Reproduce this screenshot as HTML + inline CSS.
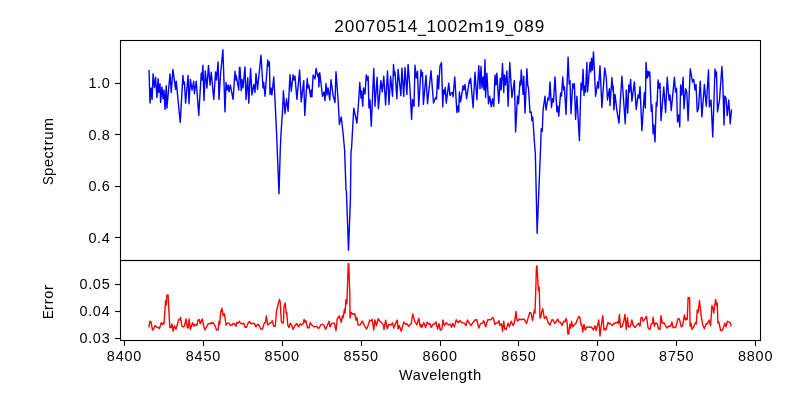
<!DOCTYPE html>
<html><head><meta charset="utf-8"><title>20070514_1002m19_089</title>
<style>html,body{margin:0;padding:0;background:#fff;}body{width:800px;height:400px;overflow:hidden;font-family:"Liberation Sans",sans-serif;}svg{display:block;}</style>
</head><body>
<svg width="800" height="400" viewBox="0 0 800 400">
<rect width="800" height="400" fill="#fff"/>
<polyline fill="none" stroke="#0000ff" stroke-width="1.39" stroke-linejoin="round" stroke-linecap="butt" points="149.0,70.0 150,103.1 151,88 152.1,99.4 153.1,73.75 154.4,87.5 155.6,77.25 156.9,97.5 158.1,78.75 158.75,92.5 160,83.75 160.6,102.5 161.9,86.9 163.1,98.75 164,90 165,109.4 166.25,85.6 166.9,108.1 170,74 171.25,92.5 172.9,69.4 175.6,89.4 176.25,81.25 180.25,122.5 182.9,75.4 183.6,84 184.4,81.9 185.6,103.1 188.1,75.4 189,103.75 190.4,79.4 192,90 193.75,81.25 194.4,93.75 196.25,81.25 198.75,115.4 201.25,73.1 202,80 202.9,65.25 204,100.6 205.25,70.9 206.9,88.1 208.5,65.4 210,85 211.25,72.25 213.75,99.4 215.6,71.9 216.5,80 218.1,61.9 219,99.4 220.5,75 222.9,49.75 225,111.9 226,82.5 227,90 228.1,85 229,92 230.25,85 233.1,99.4 235,71.25 235.6,80 236.25,75.6 238.75,90 239.4,67.5 240,67.5 241.2,90.6 241.9,79.4 243,88 245,66.9 246,99.4 247.75,77.75 248.75,103.1 250.6,68.4 251.9,95 253.75,84.4 255,92.5 256,73.5 257.5,89.4 261,55.25 263,88 263.75,82.5 265,96.25 267.75,60 268.5,66 269.4,61.9 270,94.4 271,88 271.9,95 273.75,76.9 275,100 276.9,140 277.2,150 279,193.75 280.25,150 281,133.75 282.75,107.5 283.4,90.6 285,113.75 286.5,98.75 288.1,111.25 290,74.75 291.25,91.25 293.1,74.75 294,80 295,76.25 296.9,99.4 299.6,70 301.25,101.9 303.75,80.6 304.75,115.4 307.25,78.5 308,88 308.75,85 310.6,96.9 311.2,90 311.9,96.9 313.1,75 315,79 316,68.5 317.75,76.5 318.5,74 318.9,86.9 319.75,72.75 322.5,96.25 324,92 325,100.6 326,83.5 327,95 328,88 329.75,100 331,79.75 333,95 335,102.5 336,71.6 338.1,100 339.4,124.4 341.25,116.9 343.1,133.5 344.6,150 346,190 346.4,191 348.5,250.3 350.4,200 351,152 351.6,147.5 353.75,108.1 356.9,123.1 358.75,100 359.75,82.5 361,98 361.5,91 362.75,106.25 363.5,88 365,94 366.25,75 367.2,80 368.1,76.25 369,108 370,100 371.25,126.25 373.75,68.5 375,106.25 377.1,77.25 378.4,108.75 380.9,80.6 382.25,91.9 383.75,76.25 385.6,105 387.5,71 389,104.4 390.6,76.25 392.5,96.25 393.5,64.4 394.3,75 395,71.9 396.9,98.75 398.1,69.4 400.9,95.6 401.9,68.1 403.75,96.25 405,67.5 406.9,94.4 408.1,64.4 410,88.75 411.6,119.4 412.5,99.4 414,106.25 415,65.25 416.3,78 417.5,71.25 418.75,106.25 421,69.75 421.8,76 422.5,72.5 423.4,104.4 426,75.4 427.5,103.75 431,70.6 433.5,103.1 435.6,97.5 436.5,99 437.6,75.5 438.6,89 440,66 441.5,62.5 442.75,106.9 443.6,90 444.4,94 445.25,87.5 446.25,103.1 448.75,83.1 450,95.6 451.2,93 452.5,92.5 453.1,96.9 454.75,76.9 456.9,112.5 457.8,106 458.75,111.9 459.4,91.9 460.6,101.9 463.1,85.6 464,90 465,84.4 466.6,98.75 469.4,80 470,83 470.6,78.1 473.1,107.75 475,72.25 476.9,99.75 478.75,65.6 480,88.75 481,66.5 482,88 483.1,77 484,90 485,59.6 485.6,97.5 486.9,73.1 488.5,103.75 489.75,96.25 491.25,106.9 492.5,98.75 493.75,106.5 495,75 496,85 496.9,73.1 498.75,103.1 500.25,78.1 501.2,90 502.5,63.5 503.75,92.5 504.4,75 505.5,85 506.9,71 508.1,106.25 509.75,62.5 511.9,97.5 513,90 514.4,80.4 515.6,131.9 517.5,96 518.5,103.75 520,81.25 520.6,85 521.25,70 523.1,94.4 523.75,76.25 525,113.1 526.9,68.75 527.8,86 528.5,88 530,112.5 531.2,111.9 531.9,120.6 532.7,117 533.1,122.5 535,150 535.3,152 537.15,233.25 540.5,150 541.25,128.75 542.25,131.25 543.1,110 545,96.25 546,110 548.1,97.5 549,100 550,81.9 551.5,107.5 552.5,98.75 553.5,102 555,76.9 556.9,111.9 557.8,106 558.75,116.25 560.6,93 561.5,96 562.75,76.9 563.6,90 564.4,86.9 566,114.4 568.1,57.1 569.2,84 570,80.6 571,113.75 572.75,83.75 573.6,88 574.4,83.75 575.6,119.4 576.9,96.25 579.4,140.6 581,83.1 582,90 583.1,69.4 584,95.6 584.6,86.25 585.5,92 586.9,62.5 587.5,91.9 590,62.5 590.8,72 591.5,58.1 592.4,70 593.5,51.9 595.6,96.25 597.75,81.9 598.5,88.1 600,65.6 601.9,107.5 604.75,67.9 606.25,77.5 607.5,100 609.4,88.75 610,105.6 611.9,77.5 612.8,90 613.3,86.25 613.9,110 615,94.4 616.9,110.6 619,123.1 621.9,76.25 625.25,123.75 626.25,90 627.75,113.1 628.75,85 629.6,92 630.6,79.4 631.9,101.25 634.4,81.9 636.25,109.4 638.1,95 639,98 640,86.6 641.9,130.6 644.4,92.5 645.3,108 646,62.5 647.2,78 648.1,71.25 649,76 649.75,71.9 651.25,111.25 652,105 653.1,133.75 653.8,125 655,141.9 656.25,102.5 657,106 658.1,80 659,88 660,83.1 661,120.6 663.75,86.9 665.6,112.5 667.25,77.25 669,100 670,95 671.25,110.6 674.4,77.25 675.5,92 676.5,88.1 677.5,121.9 678.6,115 679.75,126.9 680.6,85 681.8,95 683.1,77.25 684,108.75 685.6,88.75 686.8,92 688.1,120.6 690.25,68.75 692.5,82 693.75,79.4 695,90 696,84.4 697.25,111.9 698.5,108 700.25,81.25 701.9,116.9 704.4,84.4 706.25,106.25 708.5,70 709.4,106.9 711,100 712.75,136.9 715,69 715.8,76 716.5,71.9 717.5,111.9 719.5,100 721.9,66.5 722.8,82 724,125 724.75,96 726,98 727.25,115.6 728.75,100 730.25,123.75 731.5,109.4"/>
<polyline fill="none" stroke="#ff0000" stroke-width="1.39" stroke-linejoin="round" stroke-linecap="butt" points="148.75,327.5 150,321.25 151,321.9 152.5,330 153.75,328.75 155,325.6 156.9,327.5 158.75,327.5 159.4,328.7 161.25,322.75 162.5,324.4 163.4,322.75 164,324 165.6,300.6 166.25,305 166.9,295 168.1,295 169,312.5 169.75,327.5 171,327.5 171.9,324 173.1,331.25 174.4,325.6 176,329.4 176.9,326.25 178.75,319.4 179.75,320 180.6,317.5 181.9,326.25 183.1,326.9 184.4,326.25 186,319 187.25,327.5 188.1,328.1 189.1,319 190.4,329.4 192.5,322.75 194,326.25 195,324.4 196.9,325.6 198.1,320 199.4,319.75 200.25,323.75 202.25,319 203.75,326.25 205,330 206.25,327.5 208.1,323.75 210,323.75 211.25,322.5 211.9,323.75 213.1,322.5 215,325.6 216.5,330 218.1,330 219,321.25 219.75,324.4 220.6,312.5 221.9,308.1 223.1,315.6 224.4,313.75 226,325 227.5,323.1 229,323.1 230.25,325.25 231.9,325 233.1,323.5 234.75,324 236,326.25 236.9,322.25 238.1,323.1 239.4,321.25 240,322.5 241.9,324 243.75,323.1 245,327.25 246.5,327.25 248.1,323.1 249.4,321.5 251.25,324 252.5,323.1 254.75,324 256,326.9 257.5,324.4 258.75,324.75 260.6,329 262.25,329.4 264.4,322.75 265.4,322.75 266.25,316 267.75,325 269.4,323.75 270,322.75 271,322.75 272.25,320.6 273.75,326.25 275.25,326.25 276.5,311.25 278.1,304.4 279.5,299.4 280.25,302.5 281.25,321.25 282.5,323.1 283.4,322.75 284,306.25 285.25,303.1 286.25,313.75 286.75,312.5 287.75,325 289,327.5 290.25,323.1 291.5,325 293.1,329.4 294.4,326.25 296.9,323.5 298.5,326.9 300.25,323.75 301.5,325 303.1,323.75 304.1,319.4 305,322.25 305.9,320.6 307.5,327.5 309,328.1 310.25,322.75 312.25,325.6 314.4,326.9 316.9,326.25 318.5,328.75 321.25,324.4 323.5,324.4 325.6,329.4 327.5,325 329,321.25 330,326.9 331.9,323.1 334.4,323.1 336,330.6 337.25,319 339.4,316 341.25,322.25 342.5,315.6 343.1,317.8 344.4,309.4 345,313.1 346,299.4 346.9,303.75 347.3,292 348.25,263.6 348.75,263.6 349.8,295 350,318.1 351.25,312.5 353.1,314.4 354.75,313.75 356,320 356.9,317.5 358.1,325 360.25,324.75 362.25,321 364.4,325.6 366.5,329 368.1,325.6 369.75,320 371,321 372.25,319.4 373.75,330 375,320 376.5,325.6 378.1,318.75 380,321.25 381.9,323.1 383.1,324.4 384,329.4 385.6,320.25 387.25,328.75 388.75,324.4 391.25,325 392.5,322.75 393.75,328.1 395.6,323.1 397.25,320 398.1,329 399.4,325.6 401.25,331.25 403.75,321.9 405.6,324.4 406.9,323.75 408.75,326.25 411.25,323.5 412.75,314 414,318.75 415,321.9 416.9,324.75 418.75,318.1 420.25,326.9 421,324.4 421.9,327.5 423.75,322.5 425.6,327.5 427.25,322.25 429.4,324.4 430,323.75 431.25,327.5 432.75,324.4 434.4,324 436,321.9 437.5,329 439,323.75 440.25,330 441.9,329.4 442.9,320 444.4,325.6 446.25,322.75 448.5,325 450.25,324 451.5,327.25 452.75,323.5 454.4,326.9 456.25,319.75 458.1,322.75 459.75,320.6 461.9,322.75 464.4,323.1 466,325.6 467.5,320 469.4,323.1 471,325.6 472.75,322.75 475.25,319.75 476.9,320 478.75,328.1 480.6,323.5 482.5,323.1 483.75,320.6 485.6,326.9 487.75,319.75 490.6,319.75 492.9,317.5 493.75,319.4 494.75,324.4 496.25,323.1 498.1,322.75 499,320.6 500,325.6 501.5,323.75 502.5,331.25 503.75,321.25 504.75,329 506.25,329.4 508.1,323.1 509.4,326.9 511.25,321.25 513.1,325.6 514.4,322.75 516,311.5 516.9,320 517.75,321 519.4,319 521.25,319.75 522.5,319 524.4,319.4 526.5,323.5 528.1,318.1 529.75,312.5 531,313.1 532.5,320.6 533.75,313.1 534.4,310 535,313.1 535.6,296 536.4,268 536.9,265.8 537.5,275 538.4,290.5 539.2,287.5 540,318.1 540.9,317 541.5,313.1 542.75,308.75 544.4,318.5 546.25,316.5 548.1,322.75 550,325 551.9,319.75 553.1,320 554.75,323.5 556.5,321 557.75,319 559,321.9 560.6,322.5 561.9,325.6 563.75,321.25 565,321.9 566,318.5 566.9,320.6 567.9,334 568.75,333.75 569.75,324.4 570.6,328.1 571.5,321.5 572.75,326.9 574.4,324.4 576.25,322.75 577.5,319 578.75,316.5 579.75,316.9 581.25,325.6 581.9,325 582.75,331.9 584,324.4 585.25,330 586.9,326.9 589.4,327.25 591.25,326.9 593.5,330 595,325.6 596.25,330.6 598.75,320 600,336 601,327.5 602.75,315.6 604,330 605,328.75 606,329.75 607.9,322.5 609.4,324 610,323.1 612.25,325.6 613.75,323.5 616.25,322.75 617.75,321.9 618.5,323.75 619.4,314.4 620.6,327.5 622.25,326.25 623.75,321.25 625,314.4 626.25,329.4 627.5,317.75 628.5,326.9 630.25,326.9 631.9,320 633.1,325 634.75,327.5 636.5,325.6 638.5,323.1 640,326.25 641,317.5 642.25,317.75 643.1,321.25 644.75,319.4 646.5,316.25 648.1,328.1 650,329.4 651.25,323.75 652.5,323.5 653.1,317.25 654.4,326.25 655.6,323.1 657.25,323.5 658.5,329 660,329.4 661,315.6 662.25,323.1 664,322.75 666.9,328.1 668.75,326.25 670.6,326.25 671.9,322.25 673.1,327.5 675.6,327.5 678.1,318.75 679.4,319 681.25,326.9 682.5,326.25 684.4,315 685.4,320 686.5,318.5 687.25,319.4 688.1,297.75 689.6,297.75 690.1,326.25 691,323.1 692,329.4 693.4,327.5 695.6,322.5 696.25,324 697.25,310 698.1,312.5 699.5,300.6 701.1,315.3 702.6,324.4 704.4,328.75 706.1,323.75 707.5,324 709,320 710.6,325.6 711.9,305.6 712.75,306.9 713.75,313.1 715.6,299.4 716.5,305 717.25,303.1 717.9,323.1 718.75,321.9 720.6,330.25 722.5,330 725,323.1 726,326.9 727.5,321.25 729.4,322.25 730.4,323.1 731.25,326.25"/>
<g fill="none" stroke="#000" stroke-width="1.1" stroke-linecap="square">
<rect x="120.5" y="40.5" width="640" height="220"/>
<rect x="120.5" y="260.5" width="640" height="80"/>
</g>
<g stroke="#000" stroke-width="1.1">
<line x1="124.5" y1="340.5" x2="124.5" y2="345.9"/>
<line x1="203.5" y1="340.5" x2="203.5" y2="345.9"/>
<line x1="282.5" y1="340.5" x2="282.5" y2="345.9"/>
<line x1="361.5" y1="340.5" x2="361.5" y2="345.9"/>
<line x1="440.5" y1="340.5" x2="440.5" y2="345.9"/>
<line x1="518.5" y1="340.5" x2="518.5" y2="345.9"/>
<line x1="597.5" y1="340.5" x2="597.5" y2="345.9"/>
<line x1="676.5" y1="340.5" x2="676.5" y2="345.9"/>
<line x1="755.5" y1="340.5" x2="755.5" y2="345.9"/>
<line x1="115.1" y1="83.5" x2="120.5" y2="83.5"/>
<line x1="115.1" y1="134.5" x2="120.5" y2="134.5"/>
<line x1="115.1" y1="186.5" x2="120.5" y2="186.5"/>
<line x1="115.1" y1="237.5" x2="120.5" y2="237.5"/>
<line x1="115.1" y1="284.5" x2="120.5" y2="284.5"/>
<line x1="115.1" y1="311.5" x2="120.5" y2="311.5"/>
<line x1="115.1" y1="338.5" x2="120.5" y2="338.5"/>
</g>
<g font-family="'Liberation Sans', sans-serif" fill="#000" opacity="0.999">
<g transform="translate(106.43,361.30)"><text transform="translate(0.40,0) scale(1.0225,1)" font-size="14.14">8</text><text transform="translate(9.23,0) scale(1.0225,1)" font-size="14.14">4</text><text transform="translate(18.07,0) scale(1.0225,1)" font-size="14.14">0</text><text transform="translate(26.91,0) scale(1.0225,1)" font-size="14.14">0</text></g>
<g transform="translate(185.32,361.30)"><text transform="translate(0.40,0) scale(1.0225,1)" font-size="14.14">8</text><text transform="translate(9.23,0) scale(1.0225,1)" font-size="14.14">4</text><text transform="translate(18.07,0) scale(1.0225,1)" font-size="14.14">5</text><text transform="translate(26.91,0) scale(1.0225,1)" font-size="14.14">0</text></g>
<g transform="translate(264.21,361.30)"><text transform="translate(0.40,0) scale(1.0225,1)" font-size="14.14">8</text><text transform="translate(9.23,0) scale(1.0225,1)" font-size="14.14">5</text><text transform="translate(18.07,0) scale(1.0225,1)" font-size="14.14">0</text><text transform="translate(26.91,0) scale(1.0225,1)" font-size="14.14">0</text></g>
<g transform="translate(343.10,361.30)"><text transform="translate(0.40,0) scale(1.0225,1)" font-size="14.14">8</text><text transform="translate(9.23,0) scale(1.0225,1)" font-size="14.14">5</text><text transform="translate(18.07,0) scale(1.0225,1)" font-size="14.14">5</text><text transform="translate(26.91,0) scale(1.0225,1)" font-size="14.14">0</text></g>
<g transform="translate(421.99,361.30)"><text transform="translate(0.40,0) scale(1.0225,1)" font-size="14.14">8</text><text transform="translate(9.23,0) scale(1.0225,1)" font-size="14.14">6</text><text transform="translate(18.07,0) scale(1.0225,1)" font-size="14.14">0</text><text transform="translate(26.91,0) scale(1.0225,1)" font-size="14.14">0</text></g>
<g transform="translate(500.88,361.30)"><text transform="translate(0.40,0) scale(1.0225,1)" font-size="14.14">8</text><text transform="translate(9.23,0) scale(1.0225,1)" font-size="14.14">6</text><text transform="translate(18.07,0) scale(1.0225,1)" font-size="14.14">5</text><text transform="translate(26.91,0) scale(1.0225,1)" font-size="14.14">0</text></g>
<g transform="translate(579.77,361.30)"><text transform="translate(0.40,0) scale(1.0225,1)" font-size="14.14">8</text><text transform="translate(9.23,0) scale(1.0225,1)" font-size="14.14">7</text><text transform="translate(18.07,0) scale(1.0225,1)" font-size="14.14">0</text><text transform="translate(26.91,0) scale(1.0225,1)" font-size="14.14">0</text></g>
<g transform="translate(658.66,361.30)"><text transform="translate(0.40,0) scale(1.0225,1)" font-size="14.14">8</text><text transform="translate(9.23,0) scale(1.0225,1)" font-size="14.14">7</text><text transform="translate(18.07,0) scale(1.0225,1)" font-size="14.14">5</text><text transform="translate(26.91,0) scale(1.0225,1)" font-size="14.14">0</text></g>
<g transform="translate(737.55,361.30)"><text transform="translate(0.40,0) scale(1.0225,1)" font-size="14.14">8</text><text transform="translate(9.23,0) scale(1.0225,1)" font-size="14.14">8</text><text transform="translate(18.07,0) scale(1.0225,1)" font-size="14.14">0</text><text transform="translate(26.91,0) scale(1.0225,1)" font-size="14.14">0</text></g>
<g transform="translate(88.01,88.20)"><text transform="translate(0.40,0) scale(1.0225,1)" font-size="14.14">1</text><text transform="translate(8.84,0) scale(1.1237,1)" font-size="14.14">.</text><text transform="translate(13.65,0) scale(1.0225,1)" font-size="14.14">0</text></g>
<g transform="translate(88.01,139.70)"><text transform="translate(0.40,0) scale(1.0225,1)" font-size="14.14">0</text><text transform="translate(8.84,0) scale(1.1237,1)" font-size="14.14">.</text><text transform="translate(13.65,0) scale(1.0225,1)" font-size="14.14">8</text></g>
<g transform="translate(88.01,191.20)"><text transform="translate(0.40,0) scale(1.0225,1)" font-size="14.14">0</text><text transform="translate(8.84,0) scale(1.1237,1)" font-size="14.14">.</text><text transform="translate(13.65,0) scale(1.0225,1)" font-size="14.14">6</text></g>
<g transform="translate(88.01,242.70)"><text transform="translate(0.40,0) scale(1.0225,1)" font-size="14.14">0</text><text transform="translate(8.84,0) scale(1.1237,1)" font-size="14.14">.</text><text transform="translate(13.65,0) scale(1.0225,1)" font-size="14.14">4</text></g>
<g transform="translate(79.17,289.30)"><text transform="translate(0.40,0) scale(1.0225,1)" font-size="14.14">0</text><text transform="translate(8.84,0) scale(1.1237,1)" font-size="14.14">.</text><text transform="translate(13.65,0) scale(1.0225,1)" font-size="14.14">0</text><text transform="translate(22.49,0) scale(1.0225,1)" font-size="14.14">5</text></g>
<g transform="translate(79.17,316.30)"><text transform="translate(0.40,0) scale(1.0225,1)" font-size="14.14">0</text><text transform="translate(8.84,0) scale(1.1237,1)" font-size="14.14">.</text><text transform="translate(13.65,0) scale(1.0225,1)" font-size="14.14">0</text><text transform="translate(22.49,0) scale(1.0225,1)" font-size="14.14">4</text></g>
<g transform="translate(79.17,343.30)"><text transform="translate(0.40,0) scale(1.0225,1)" font-size="14.14">0</text><text transform="translate(8.84,0) scale(1.1237,1)" font-size="14.14">.</text><text transform="translate(13.65,0) scale(1.0225,1)" font-size="14.14">0</text><text transform="translate(22.49,0) scale(1.0225,1)" font-size="14.14">3</text></g>
<g transform="translate(398.97,379.75)"><text transform="translate(0.00,0) scale(1.0186,1)" font-size="14.14">W</text><text transform="translate(13.81,0) scale(1.0178,1)" font-size="14.14">a</text><text transform="translate(22.23,0) scale(1.0933,1)" font-size="14.14">v</text><text transform="translate(30.37,0) scale(1.0219,1)" font-size="14.14">e</text><text transform="translate(38.72,0) scale(1.1552,1)" font-size="14.14">l</text><text transform="translate(42.65,0) scale(1.0219,1)" font-size="14.14">e</text><text transform="translate(51.12,0) scale(1.0527,1)" font-size="14.14">n</text><text transform="translate(59.84,0) scale(1.0543,1)" font-size="14.14">g</text><text transform="translate(68.48,0) scale(1.3036,1)" font-size="14.14">t</text><text transform="translate(73.96,0) scale(1.0527,1)" font-size="14.14">h</text></g>
<g transform="translate(333.70,31.90)"><text transform="translate(0.47,0) scale(1.0122,1)" font-size="16.97">2</text><text transform="translate(10.97,0) scale(1.0122,1)" font-size="16.97">0</text><text transform="translate(21.47,0) scale(1.0122,1)" font-size="16.97">0</text><text transform="translate(31.97,0) scale(1.0122,1)" font-size="16.97">7</text><text transform="translate(42.47,0) scale(1.0122,1)" font-size="16.97">0</text><text transform="translate(52.97,0) scale(1.0122,1)" font-size="16.97">5</text><text transform="translate(63.47,0) scale(1.0122,1)" font-size="16.97">1</text><text transform="translate(73.97,0) scale(1.0122,1)" font-size="16.97">4</text><rect x="83.83" y="2.87" width="8.59" height="1.10"/><text transform="translate(92.72,0) scale(1.0122,1)" font-size="16.97">1</text><text transform="translate(103.22,0) scale(1.0122,1)" font-size="16.97">0</text><text transform="translate(113.72,0) scale(1.0122,1)" font-size="16.97">0</text><text transform="translate(124.22,0) scale(1.0122,1)" font-size="16.97">2</text><text transform="translate(134.65,0) scale(1.0802,1)" font-size="16.97">m</text><text transform="translate(150.80,0) scale(1.0122,1)" font-size="16.97">1</text><text transform="translate(161.30,0) scale(1.0122,1)" font-size="16.97">9</text><rect x="171.16" y="2.87" width="8.59" height="1.10"/><text transform="translate(180.05,0) scale(1.0122,1)" font-size="16.97">0</text><text transform="translate(190.55,0) scale(1.0122,1)" font-size="16.97">8</text><text transform="translate(201.05,0) scale(1.0122,1)" font-size="16.97">9</text></g>
<g transform="translate(53.40,151.30) rotate(-90) translate(-33.65,0)"><text transform="translate(0.00,0) scale(0.9347,1)" font-size="14.14">S</text><text transform="translate(9.04,0) scale(1.0649,1)" font-size="14.14">p</text><text transform="translate(17.85,0) scale(1.0322,1)" font-size="14.14">e</text><text transform="translate(26.37,0) scale(1.0260,1)" font-size="14.14">c</text><text transform="translate(33.95,0) scale(1.3168,1)" font-size="14.14">t</text><text transform="translate(39.41,0) scale(1.1520,1)" font-size="14.14">r</text><text transform="translate(45.19,0) scale(1.0633,1)" font-size="14.14">u</text><text transform="translate(54.11,0) scale(1.0911,1)" font-size="14.14">m</text></g>
<g transform="translate(53.30,301.90) rotate(-90) translate(-17.20,0)"><text transform="translate(0.00,0) scale(0.9304,1)" font-size="14.14">E</text><text transform="translate(8.92,0) scale(1.1520,1)" font-size="14.14">r</text><text transform="translate(14.63,0) scale(1.1520,1)" font-size="14.14">r</text><text transform="translate(20.41,0) scale(1.0264,1)" font-size="14.14">o</text><text transform="translate(28.84,0) scale(1.1520,1)" font-size="14.14">r</text></g>
</g>
</svg>
</body></html>
